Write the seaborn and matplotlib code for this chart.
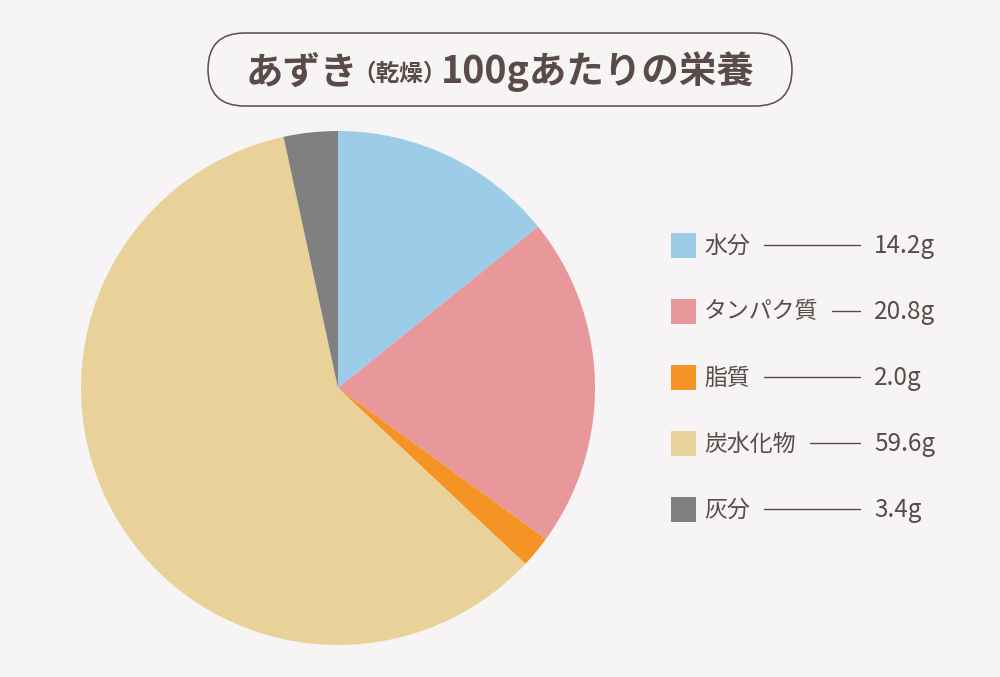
import matplotlib
matplotlib.use("Agg")
import matplotlib.pyplot as plt
from matplotlib.patches import FancyBboxPatch, Rectangle
import seaborn as sns

categories = ["水分", "タンパク質", "脂質", "炭水化物", "灰分"]
values = [14.2, 20.8, 2.0, 59.6, 3.4]
colors = ["#9ccce8", "#e8979a", "#f59424", "#e9d299", "#808080"]
title_parts = ["あずき", "（乾燥）", "100gあたりの栄養"]

BG = "#f6f4f5"
TXT = "#5a4b48"

sns.set_theme(style="white")
plt.rcParams["font.family"] = ["Noto Sans CJK JP", "DejaVu Sans"]

fig = plt.figure(figsize=(10, 6.77), dpi=100, facecolor=BG)

# overlay axes in pixel coordinates
ov = fig.add_axes([0, 0, 1, 1], facecolor=BG)
ov.set_xlim(0, 1000)
ov.set_ylim(677, 0)
ov.axis("off")

# pie axes
cx, cy, r = 338, 388, 257
pax = fig.add_axes([(cx - r) / 1000, (677 - cy - r) / 677, 2 * r / 1000, 2 * r / 677])
pax.set_facecolor("none")
pax.pie(values, colors=colors, startangle=90, counterclock=False,
        wedgeprops=dict(linewidth=0))
pax.set_xlim(-1, 1)
pax.set_ylim(-1, 1)
pax.set_aspect("auto")
pax.axis("off")

# title box
box = FancyBboxPatch((208, 33), 584, 73,
                     boxstyle="round,pad=0,rounding_size=36.5",
                     fc="none", ec=TXT, lw=1.1, mutation_aspect=1)
ov.add_patch(box)

# title text pieces
fig.canvas.draw()
renderer = fig.canvas.get_renderer()
t1 = ov.text(0, 72, title_parts[0], fontsize=27, fontweight="bold", color=TXT,
             ha="left", va="center")
t2 = ov.text(0, 74, title_parts[1], fontsize=17, fontweight="bold", color=TXT,
             ha="left", va="center")
t3 = ov.text(0, 72, title_parts[2], fontsize=27, fontweight="bold", color=TXT,
             ha="left", va="center")
widths = [t.get_window_extent(renderer).width for t in (t1, t2, t3)]
gap = -6
total = sum(widths) + 2 * gap
x = 500 - total / 2
for t, w in zip((t1, t2, t3), widths):
    t.set_x(x)
    x += w + gap

# legend
ys = [245, 311, 377, 443, 509]
for cat, val, col, y in zip(categories, values, colors, ys):
    ov.add_patch(Rectangle((671, y - 12.5), 25, 25, fc=col, ec="none"))
    lt = ov.text(704, y + 1, cat, fontsize=16.5, color=TXT, ha="left", va="center")
    bb = lt.get_window_extent(renderer)
    x_end = bb.x1
    ov.plot([x_end + 14, 860], [y, y], color=TXT, lw=1.0)
    ov.text(874, y + 1, f"{val}g", fontsize=17.5, color=TXT, ha="left", va="center")

fig.savefig("out.png", dpi=100, facecolor=BG)
